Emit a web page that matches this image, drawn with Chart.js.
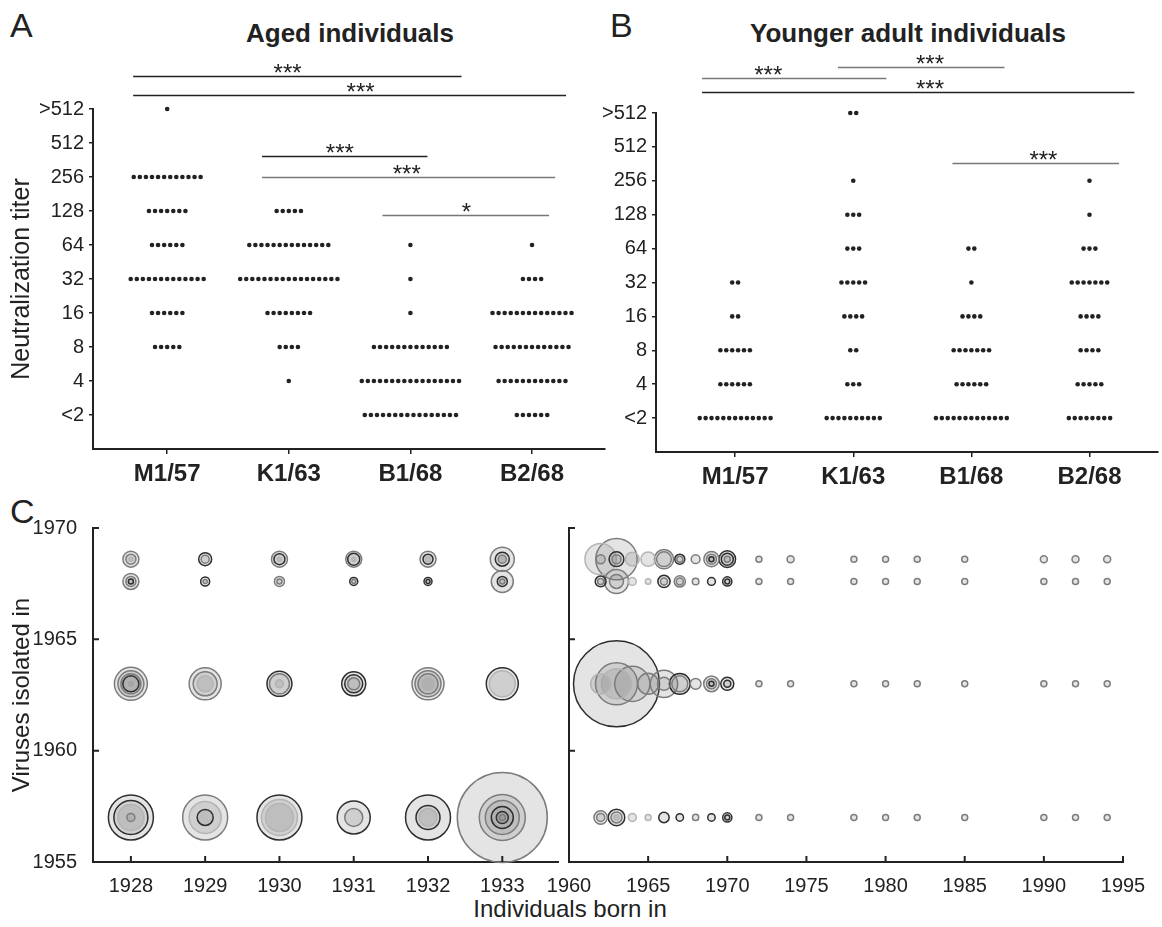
<!DOCTYPE html>
<html>
<head>
<meta charset="utf-8">
<script src="https://cdn.jsdelivr.net/npm/chart.js@4.4.1/dist/chart.umd.min.js"></script>
<style>
  body { margin: 0; background: #fff; width: 1162px; height: 927px; position: relative; overflow: hidden;
         font-family: "Liberation Sans", Arial, sans-serif; color: #222; }
  canvas { position: absolute; }
  .lbl { position: absolute; white-space: nowrap; line-height: 1; }
</style>
</head>
<body>
<div class="lbl" style="left:10px;top:8px;font-size:34px">A</div>
<div class="lbl" style="left:610px;top:8px;font-size:34px">B</div>
<div class="lbl" style="left:10px;top:494px;font-size:34px">C</div>
<div class="lbl" style="left:350px;top:20px;font-size:26px;font-weight:bold;transform:translateX(-50%)">Aged individuals</div>
<div class="lbl" style="left:908px;top:20px;font-size:26px;font-weight:bold;transform:translateX(-50%)">Younger adult individuals</div>
<div class="lbl" style="left:570px;top:897px;font-size:24px;transform:translateX(-50%)">Individuals born in</div>

<canvas id="agedChart" width="620" height="500" style="left:0;top:0"></canvas>
<canvas id="youngChart" width="572" height="500" style="left:590px;top:0"></canvas>
<canvas id="agedBubble" width="560" height="427" style="left:0;top:500px"></canvas>
<canvas id="youngBubble" width="622" height="427" style="left:540px;top:500px"></canvas>

<script>
// ---- panels A and B: number of individuals at each titer level ----
const titerLabels = ['<2', '4', '8', '16', '32', '64', '128', '256', '512', '>512'];
const viruses = ['M1/57', 'K1/63', 'B1/68', 'B2/68'];

// counts per titer level, from <2 up to >512
const agedM1 = [0, 0, 5, 6, 13, 6, 7, 12, 0, 1];
const agedK1 = [0, 1, 4, 8, 17, 14, 5, 0, 0, 0];
const agedB1 = [16, 17, 13, 1, 1, 1, 0, 0, 0, 0];
const agedB2 = [6, 12, 13, 14, 4, 1, 0, 0, 0, 0];

const youngM1 = [13, 6, 6, 2, 2, 0, 0, 0, 0, 0];
const youngK1 = [10, 3, 2, 4, 5, 3, 3, 1, 0, 2];
const youngB1 = [13, 6, 7, 4, 1, 2, 0, 0, 0, 0];
const youngB2 = [8, 5, 4, 4, 7, 3, 1, 1, 0, 0];

// significance bars: [from, to, level, label position, label, dark line]
const agedBars = [
  [0.72, 3.42, 9.97, 1.99, '***', true],
  [0.72, 4.28, 9.41, 2.59, '***', true],
  [1.78, 3.14, 7.62, 2.42, '***', true],
  [1.78, 4.19, 7.0, 2.97, '***', false],
  [2.77, 4.14, 5.88, 3.46, '*', false]
];
const youngBars = [
  [0.72, 2.28, 10.03, 1.28, '***', false],
  [1.87, 3.28, 10.35, 2.65, '***', false],
  [0.72, 4.38, 9.62, 2.65, '***', true],
  [2.84, 4.25, 7.53, 3.61, '***', false]
];

// ---- panel C: rings [size, shade] per birth year, for each virus ----
const agedBorn = [1928, 1929, 1930, 1931, 1932, 1933];
const agedB1Rings = [
  [[8, 1], [5, 1], [2, 0]], [[6.5, 2], [4, 1]], [[8, 1], [5.5, 2], [2, 0]],
  [[8, 1], [6, 2], [2, 0]], [[8, 1], [5, 2], [2.5, 0]], [[12, 1], [7, 2], [4, 1], [2, 0]]
];
const agedB2Rings = [
  [[8, 1], [5, 1], [2.5, 2]], [[4.5, 2], [2, 1]], [[5, 1], [2.5, 1]],
  [[4, 2], [2, 1]], [[4, 2], [2, 2]], [[11, 1], [5, 2], [2.5, 1]]
];
const agedK1Rings = [
  [[16.5, 1], [13, 1], [10, 1], [8, 2], [4, 0]], [[16, 1], [12, 1], [8, 0]], [[12.5, 2], [10, 1], [4, 0]],
  [[12, 2], [9, 2], [6, 1]], [[16, 1], [13, 1], [10, 1], [7, 0]], [[16, 2], [13, 0]]
];
const agedM1Rings = [
  [[22.5, 2], [17, 2], [13, 0], [4, 1]], [[22.5, 1], [16, 0], [8, 2]], [[22.5, 2], [18, 0], [14, 0]],
  [[16.5, 2], [9, 1]], [[22.5, 2], [12, 2], [9, 0]], [[45, 1], [23, 1], [17, 1], [11, 2], [6, 2], [3, 1]]
];

const youngBorn = [1962, 1963, 1964, 1965, 1966, 1967, 1968, 1969, 1970, 1972, 1974, 1978, 1980, 1982, 1985, 1990, 1992, 1994];
const youngB1Rings = [
  [[15.7, 0], [4.5, 1]], [[20.7, 1], [7.4, 2], [4.5, 1]], [[6.9, 0]], [[7.2, 0]], [[9.6, 1], [7.4, 1]],
  [[5, 2], [3, 1]], [[4.4, 1]], [[7.6, 1], [5, 1], [2.5, 2]], [[8.3, 2], [6, 2], [3, 1]],
  [[3, 1]], [[3.5, 1]], [[3, 1]], [[3, 1]], [[3, 1]], [[3, 1]], [[3.5, 1]], [[3.5, 1]], [[3.5, 1]]
];
const youngB2Rings = [
  [[5.4, 2], [3, 1]], [[12, 1], [7, 1]], [[3.9, 0]], [[2.8, 0]], [[6.1, 2], [3.5, 1]],
  [[5.6, 1], [3.5, 1]], [[3.3, 1]], [[3.9, 2]], [[4.6, 2], [2.5, 2]],
  [[3, 1]], [[3, 1]], [[3, 1]], [[3, 1]], [[3, 1]], [[3, 1]], [[3, 1]], [[3, 1]], [[3, 1]]
];
const youngK1Rings = [
  [[10, 0]], [[43, 2], [21, 1], [15, 0]], [[17.6, 1]], [[10.5, 1]], [[13.7, 1], [6.5, 1]],
  [[10.4, 2], [8, 1]], [[5.4, 1]], [[7.8, 1], [5, 1], [2.5, 2]], [[6.5, 2], [3.5, 2]],
  [[3, 1]], [[3, 1]], [[3, 1]], [[3, 1]], [[3, 1]], [[3, 1]], [[3, 1]], [[3, 1]], [[3, 1]]
];
const youngM1Rings = [
  [[6.7, 1], [4, 1]], [[8.3, 2], [5.5, 1], [2.5, 0]], [[4, 0]], [[3, 0]], [[5.2, 2]],
  [[3.7, 2]], [[3.1, 1]], [[3.7, 2]], [[4.6, 2], [2.5, 2]],
  [[3, 1]], [[3, 1]], [[3, 1]], [[3, 1]], [[3, 1]], [[3, 1]], [[3, 1]], [[3, 1]], [[3, 1]]
];

// year each virus row sits at on the y axis
const rowM1 = 1957, rowK1 = 1963, rowB2 = 1967.6, rowB1 = 1968.6;

const FONT = '"Liberation Sans", Arial, sans-serif';
const INK = '#222';
const DOT_STEP = 0.05;
const shadeColors = ['#b4b4b4', '#7c7c7c', '#2e2e2e'];

function dotPoints(countLists) {
  const pts = [];
  countLists.forEach((counts, v) => {
    counts.forEach((n, level) => {
      for (let i = 0; i < n; i++) {
        pts.push({ x: v + 1 + (i - (n - 1) / 2) * DOT_STEP, y: level });
      }
    });
  });
  return pts;
}

function ringPoints(born, rows) {
  const pts = [];
  rows.forEach(([yr, rings]) => {
    rings.forEach((list, i) => {
      list.forEach(([size, shade]) => pts.push({ x: born[i], y: yr, r: size, shade: shade }));
    });
  });
  // biggest rings first so the small ones stay visible
  return pts.sort((a, b) => b.r - a.r);
}

function sigPlugin(bars) {
  return {
    id: 'sigBars',
    afterDatasetsDraw(chart) {
      const { ctx, scales: { x, y } } = chart;
      ctx.save();
      ctx.font = '24px ' + FONT;
      ctx.textAlign = 'center';
      bars.forEach(([x1, x2, lvl, lx, txt, dark]) => {
        const py = Math.round(y.getPixelForValue(lvl)) + 0.5;
        ctx.strokeStyle = dark ? INK : '#777';
        ctx.lineWidth = 1.5;
        ctx.beginPath();
        ctx.moveTo(x.getPixelForValue(x1), py);
        ctx.lineTo(x.getPixelForValue(x2), py);
        ctx.stroke();
        ctx.fillStyle = INK;
        ctx.fillText(txt, x.getPixelForValue(lx), py + 4);
      });
      ctx.restore();
    }
  };
}

const inwardTicks = {
  id: 'inwardTicks',
  afterDraw(chart) {
    const { ctx, chartArea: a, scales: { x, y } } = chart;
    ctx.save();
    ctx.strokeStyle = INK;
    ctx.lineWidth = 2;
    ctx.beginPath();
    x.ticks.forEach(t => {
      const px = x.getPixelForValue(t.value);
      ctx.moveTo(px, a.bottom);
      ctx.lineTo(px, a.bottom - 6);
    });
    y.ticks.forEach(t => {
      const py = y.getPixelForValue(t.value);
      ctx.moveTo(a.left, py);
      ctx.lineTo(a.left + 6, py);
    });
    ctx.stroke();
    ctx.restore();
  }
};

function dotChart(id, counts, bars, opt) {
  new Chart(document.getElementById(id), {
    type: 'scatter',
    data: {
      datasets: [{
        data: dotPoints(counts),
        pointRadius: 2.3,
        pointBackgroundColor: INK,
        pointBorderWidth: 0,
        clip: false
      }]
    },
    options: {
      responsive: false,
      animation: false,
      events: [],
      layout: { autoPadding: false, padding: { top: opt.top, right: opt.right, left: 0, bottom: 0 } },
      scales: {
        x: {
          type: 'linear', min: opt.xmin, max: opt.xmax,
          afterBuildTicks: s => { s.ticks = viruses.map((v, i) => ({ value: i + 1 })); },
          afterFit: s => { s.height = opt.xh; },
          ticks: { callback: v => viruses[v - 1], color: INK, padding: 6, font: { family: FONT, size: 24, weight: 'bold' } },
          grid: { drawOnChartArea: false, tickLength: 5, color: INK, lineWidth: 1.5 },
          border: { color: INK, width: 2 }
        },
        y: {
          type: 'linear', min: -1, max: 9,
          afterBuildTicks: s => { s.ticks = titerLabels.map((t, i) => ({ value: i })); },
          afterFit: s => { s.width = opt.yw; },
          ticks: { callback: v => titerLabels[v], color: INK, padding: 5, font: { family: FONT, size: 20 } },
          grid: { drawOnChartArea: false, tickLength: 4, color: INK, lineWidth: 1.5 },
          border: { color: INK, width: 2 },
          title: opt.title ? { display: true, text: opt.title, color: INK, padding: { top: 7, bottom: 0 }, font: { family: FONT, size: 25 } } : { display: false }
        }
      },
      plugins: { legend: { display: false }, tooltip: { enabled: false } }
    },
    plugins: [sigPlugin(bars)]
  });
}

function bubbleChart(id, points, opt) {
  new Chart(document.getElementById(id), {
    type: 'bubble',
    data: {
      datasets: [{
        data: points,
        backgroundColor: 'rgba(120,120,120,0.2)',
        borderColor: c => shadeColors[c.raw.shade],
        borderWidth: 1.5,
        clip: false
      }]
    },
    options: {
      responsive: false,
      animation: false,
      events: [],
      layout: { autoPadding: false, padding: { top: 28, right: opt.right, left: 0, bottom: 0 } },
      scales: {
        x: {
          type: 'linear', min: opt.xmin, max: opt.xmax,
          afterBuildTicks: s => { s.ticks = opt.xticks.map(v => ({ value: v })); },
          afterFit: s => { s.height = 65; },
          ticks: { callback: v => String(v), color: INK, padding: 4, font: { family: FONT, size: 20 } },
          grid: { display: false },
          border: { color: INK, width: 2 }
        },
        y: {
          type: 'linear', min: 1955, max: 1970,
          afterBuildTicks: s => { s.ticks = [1955, 1960, 1965, 1970].map(v => ({ value: v })); },
          afterFit: s => { s.width = opt.yw; },
          ticks: { display: opt.ylabels, callback: v => String(v), color: INK, padding: 8, font: { family: FONT, size: 20 } },
          grid: { display: false },
          border: { color: INK, width: 2 },
          title: opt.title ? { display: true, text: opt.title, color: INK, padding: { top: 8, bottom: 0 }, font: { family: FONT, size: 24 } } : { display: false }
        }
      },
      plugins: { legend: { display: false }, tooltip: { enabled: false } }
    },
    plugins: [inwardTicks]
  });
}

dotChart('agedChart', [agedM1, agedK1, agedB1, agedB2], agedBars,
  { top: 109, right: 15, xmin: 0.39, xmax: 4.6, xh: 51, yw: 93, title: 'Neutralization titer' });
dotChart('youngChart', [youngM1, youngK1, youngB1, youngB2], youngBars,
  { top: 113, right: 4, xmin: 0.33, xmax: 4.58, xh: 48, yw: 66 });

bubbleChart('agedBubble',
  ringPoints(agedBorn, [[rowM1, agedM1Rings], [rowK1, agedK1Rings], [rowB2, agedB2Rings], [rowB1, agedB1Rings]]),
  { xmin: 1927.49, xmax: 1933.75, xticks: agedBorn, right: 2, yw: 93, ylabels: true, title: 'Viruses isolated in' });
bubbleChart('youngBubble',
  ringPoints(youngBorn, [[rowM1, youngM1Rings], [rowK1, youngK1Rings], [rowB2, youngB2Rings], [rowB1, youngB1Rings]]),
  { xmin: 1960, xmax: 1995, xticks: [1960, 1965, 1970, 1975, 1980, 1985, 1990, 1995], right: 39, yw: 29, ylabels: false });
</script>
</body>
</html>
